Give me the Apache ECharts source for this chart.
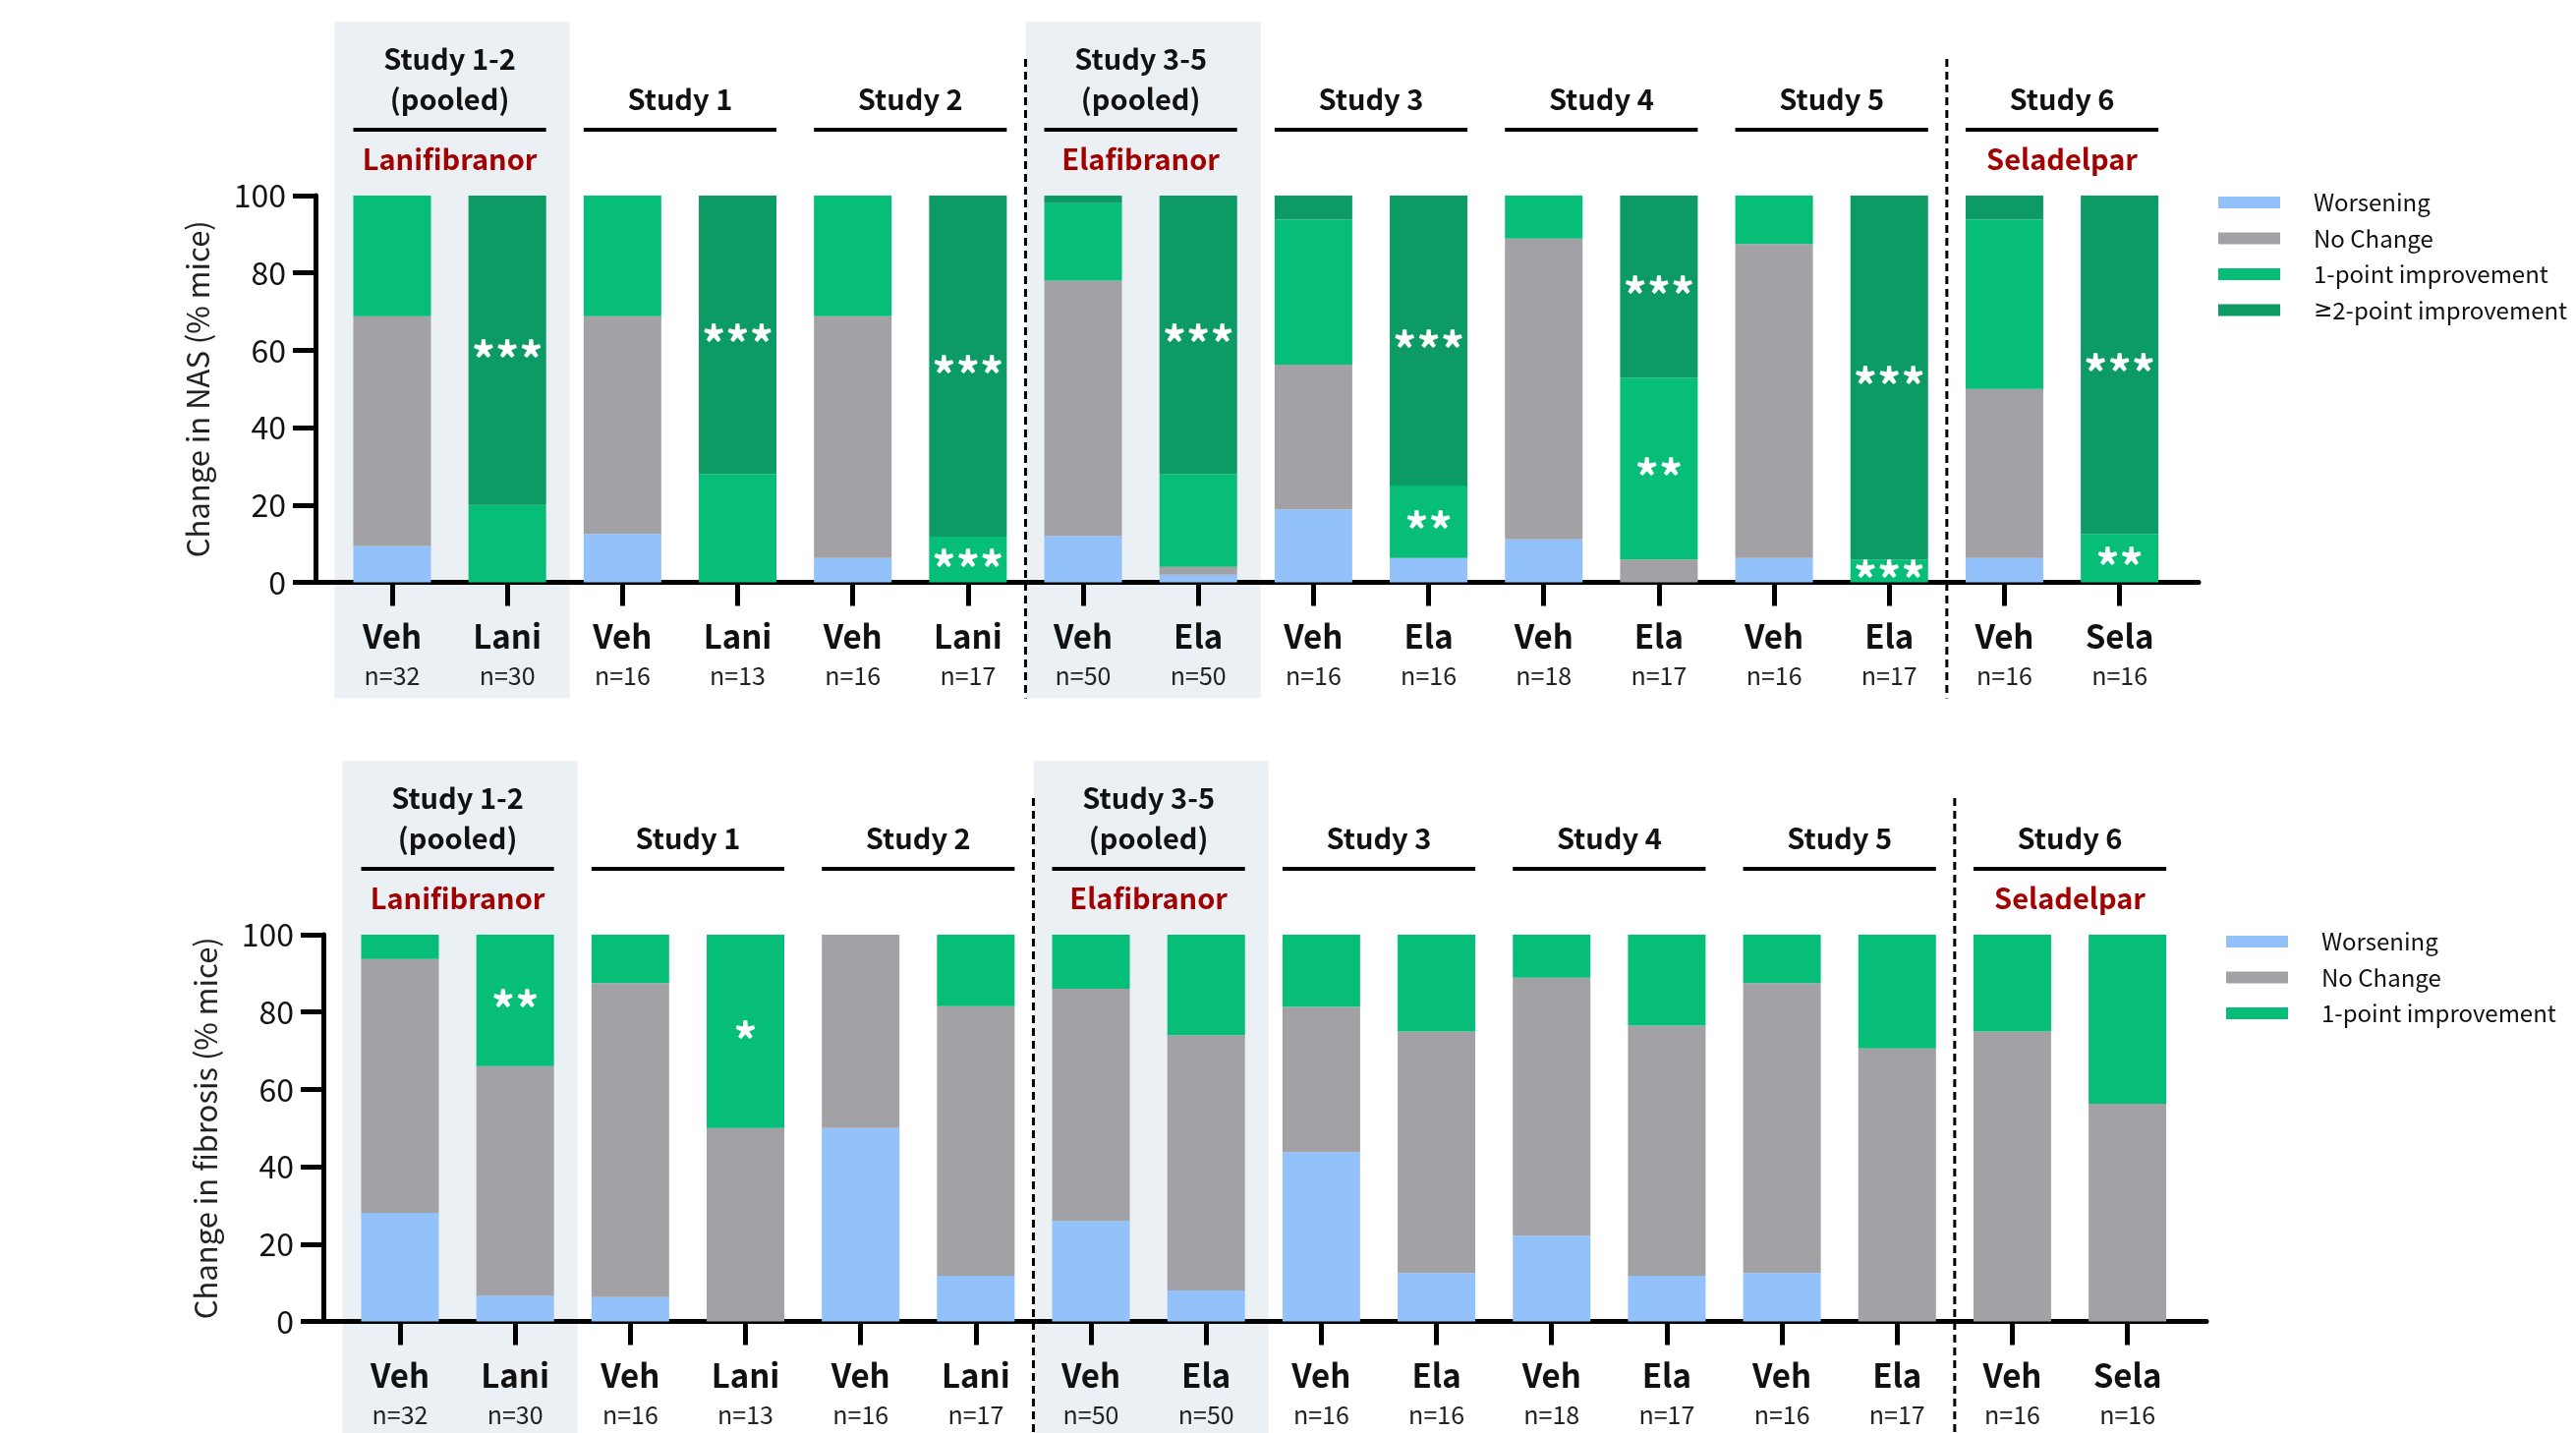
<!DOCTYPE html>
<html>
<head>
<meta charset="utf-8">
<title>Change in NAS and fibrosis by study</title>
<script src="https://cdn.jsdelivr.net/npm/echarts@6/dist/echarts.min.js"></script>
<style>
  html, body { margin: 0; padding: 0; background: #ffffff; }
  #chart { width: 2621px; height: 1458px; }
</style>
</head>
<body>
<div id="chart"></div>
<script>
// ---- Categories and labels ----
const armLabels = ['Veh', 'Lani', 'Veh', 'Lani', 'Veh', 'Lani', 'Veh', 'Ela', 'Veh', 'Ela', 'Veh', 'Ela', 'Veh', 'Ela', 'Veh', 'Sela'];
const groupSizes = ['n=32', 'n=30', 'n=16', 'n=13', 'n=16', 'n=17', 'n=50', 'n=50', 'n=16', 'n=16', 'n=18', 'n=17', 'n=16', 'n=17', 'n=16', 'n=16'];
const studyTitles = ['Study 1-2\n(pooled)', 'Study 1', 'Study 2', 'Study 3-5\n(pooled)', 'Study 3', 'Study 4', 'Study 5', 'Study 6'];
const drugNames = ['Lanifibranor', '', '', 'Elafibranor', '', '', '', 'Seladelpar'];
const pooledStudies = [0, 3];
const dividersAfterStudy = [2, 6];
const yTicks = [0, 20, 40, 60, 80, 100];

const legendNames = ['Worsening', 'No Change', '1-point improvement', '\u22652-point improvement'];

// ---- Change in NAS (% mice) ----
const nasWorsening = [9.4, 0, 12.5, 0, 6.3, 0, 12, 2, 18.8, 6.3, 11.1, 0, 6.3, 0, 6.3, 0];
const nasNoChange = [59.4, 0, 56.3, 0, 62.5, 0, 66, 2, 37.5, 0, 77.8, 5.9, 81.2, 0, 43.7, 0];
const nasOnePoint = [31.2, 20, 31.2, 28, 31.2, 11.8, 20, 24, 37.5, 18.7, 11.1, 47, 12.5, 5.9, 43.8, 12.5];
const nasTwoPoint = [0, 80, 0, 72, 0, 88.2, 2, 72, 6.2, 75, 0, 47.1, 0, 94.1, 6.2, 87.5];
const nasOnePointStars = ['', '', '', '', '', '***', '', '', '', '**', '', '**', '', '***', '', '**'];
const nasTwoPointStars = ['', '***', '', '***', '', '***', '', '***', '', '***', '', '***', '', '***', '', '***'];

// ---- Change in fibrosis (% mice) ----
const fibWorsening = [28.1, 6.7, 6.3, 0, 50, 11.8, 26, 8, 43.8, 12.5, 22.2, 11.8, 12.5, 0, 0, 0];
const fibNoChange = [65.6, 59.3, 81.2, 50, 50, 69.7, 60, 66, 37.5, 62.5, 66.7, 64.7, 75, 70.6, 75, 56.3];
const fibOnePoint = [6.3, 34, 12.5, 50, 0, 18.5, 14, 26, 18.7, 25, 11.1, 23.5, 12.5, 29.4, 25, 43.7];
const fibOnePointStars = ['', '**', '', '*', '', '', '', '', '', '', '', '', '', '', '', ''];

// ---- Styling ----
const FONT = '"Noto Sans CJK SC", "Noto Sans", sans-serif';
const SYMBOL_FONT = '"Noto Sans", "DejaVu Sans", sans-serif';
const INK = '#111111';
const DRUG_RED = '#A30000';
const SHADE = '#EBF0F4';
const COLOR = {
  worse: '#93C1F9',
  none: '#A2A1A6',
  one: '#06BE78',
  two: '#0C9A65'
};

const panels = [
  {
    dx: 0, dy: 0,
    yName: 'Change in NAS (% mice)',
    layers: [
      { name: legendNames[0], color: COLOR.worse, values: nasWorsening, stars: null },
      { name: legendNames[1], color: COLOR.none, values: nasNoChange, stars: null },
      { name: legendNames[2], color: COLOR.one, values: nasOnePoint, stars: nasOnePointStars },
      { name: legendNames[3], color: COLOR.two, values: nasTwoPoint, stars: nasTwoPointStars }
    ],
    legend: legendNames
  },
  {
    dx: 8, dy: 752,
    yName: 'Change in fibrosis (% mice)',
    layers: [
      { name: legendNames[0], color: COLOR.worse, values: fibWorsening, stars: null },
      { name: legendNames[1], color: COLOR.none, values: fibNoChange, stars: null },
      { name: legendNames[2], color: COLOR.one, values: fibOnePoint, stars: fibOnePointStars }
    ],
    legend: legendNames.slice(0, 3)
  }
];

// Plot geometry (px)
const AXIS_LEFT = 321, AXIS_WIDTH = 1916;
const BAR_LEFT = 340.4, BAR_AREA_WIDTH = 1874.8;
const PLOT_TOP = 199, PLOT_HEIGHT = 393.5;
const BAR_WIDTH = 79;

const chart = echarts.init(document.getElementById('chart'), null, { renderer: 'canvas' });

const option = {
  backgroundColor: '#ffffff',
  animation: false,
  textStyle: { fontFamily: FONT },
  grid: [], xAxis: [], yAxis: [], series: [], legend: []
};

panels.forEach((p, pi) => {
  const gAxis = pi * 2, gBars = pi * 2 + 1;
  const stackId = 'stack' + pi;

  // grid that carries the axis frame (y axis + full-length baseline)
  option.grid.push({
    left: AXIS_LEFT + p.dx, top: PLOT_TOP + p.dy, width: AXIS_WIDTH, height: PLOT_HEIGHT,
    containLabel: false, outerBoundsMode: 'none'
  });
  // grid that carries the bars, inset from the frame
  option.grid.push({
    left: BAR_LEFT + p.dx, top: PLOT_TOP + p.dy, width: BAR_AREA_WIDTH, height: PLOT_HEIGHT,
    containLabel: false, outerBoundsMode: 'none'
  });

  option.xAxis.push({
    gridIndex: gAxis, type: 'value', min: 0, max: 1,
    axisLine: { show: true, onZero: false, lineStyle: { color: '#000', width: 5 } },
    axisTick: { show: false }, axisLabel: { show: false }, splitLine: { show: false }
  });
  option.xAxis.push({
    gridIndex: gBars, type: 'category',
    data: armLabels.map((_, i) => String(i)),
    axisLine: { show: false },
    axisTick: { show: true, alignWithLabel: true, length: 24, lineStyle: { color: '#000', width: 5 } },
    axisLabel: {
      interval: 0, margin: 35,
      formatter: (v, i) => '{arm|' + armLabels[i] + '}\n{n|' + groupSizes[i] + '}',
      rich: {
        arm: { fontFamily: FONT, fontSize: 33, fontWeight: 'bold', color: INK, lineHeight: 40 },
        n: { fontFamily: FONT, fontSize: 25, color: '#222', lineHeight: 39 }
      }
    },
    splitLine: { show: false }
  });

  option.yAxis.push({
    gridIndex: gAxis, type: 'value', min: 0, max: 100, interval: 20,
    name: p.yName, nameLocation: 'middle', nameGap: 104,
    nameTextStyle: { fontFamily: FONT, fontSize: 31, color: '#222' },
    axisLine: { show: true, onZero: false, lineStyle: { color: '#000', width: 5 } },
    axisTick: { show: true, length: 23, lineStyle: { color: '#000', width: 5 } },
    axisLabel: {
      margin: 30, fontFamily: FONT, fontSize: 32, color: INK,
      formatter: v => (yTicks.indexOf(v) >= 0 ? String(v) : '')
    },
    splitLine: { show: false }
  });
  option.yAxis.push({
    gridIndex: gBars, type: 'value', min: 0, max: 100, interval: 20, show: false
  });

  p.layers.forEach(layer => {
    const stars = layer.stars;
    option.series.push({
      name: layer.name, type: 'bar', stack: stackId,
      xAxisIndex: gBars, yAxisIndex: gBars,
      barWidth: BAR_WIDTH,
      itemStyle: { color: layer.color },
      label: {
        show: !!stars, position: 'inside', offset: [0, 9],
        color: '#ffffff', fontFamily: FONT, fontSize: 48, fontWeight: 'bold',
        formatter: prm => (stars ? stars[prm.dataIndex] : '')
      },
      emphasis: { disabled: true },
      data: layer.values
    });
  });

  option.legend.push({
    data: p.legend, orient: 'vertical',
    left: 2257 + p.dx, top: 191 + p.dy, padding: 0,
    icon: 'rect', itemWidth: 63, itemHeight: 12, itemGap: 6.5,
    selectedMode: false,
    formatter: name => name.replace('\u2265', '{ge|\u2265}'),
    textStyle: {
      fontFamily: FONT, fontSize: 24, color: INK, lineHeight: 30, padding: [0, 0, 0, 29],
      rich: { ge: { fontFamily: SYMBOL_FONT, fontSize: 23, color: INK, lineHeight: 30 } }
    }
  });
});

chart.setOption(option);

// ---- Study headers, pooled shading and dividers placed from the axis scales ----
const graphics = [];
panels.forEach((p, pi) => {
  const xi = pi * 2 + 1;
  const cx = i => chart.convertToPixel({ xAxisIndex: xi }, i);
  const band = cx(1) - cx(0);
  const y100 = chart.convertToPixel({ yAxisIndex: pi * 2 }, 100);
  const y0 = chart.convertToPixel({ yAxisIndex: pi * 2 }, 0);
  const boxTop = y100 - 177;
  const boxBottom = y0 + 118;

  pooledStudies.forEach(s => {
    const left = cx(2 * s) - band / 2;
    const right = cx(2 * s + 1) + band / 2 + 5;
    graphics.push({
      type: 'rect', z: -10, silent: true,
      shape: { x: left, y: boxTop, width: right - left, height: boxBottom - boxTop },
      style: { fill: SHADE }
    });
  });

  dividersAfterStudy.forEach(s => {
    const x = cx(2 * s + 1) + band / 2;
    graphics.push({
      type: 'line', z: 5, silent: true,
      shape: { x1: x, y1: y100 - 139, x2: x, y2: boxBottom },
      style: { stroke: '#000', lineWidth: 3, lineDash: [8, 5] }
    });
  });

  studyTitles.forEach((title, s) => {
    const a = cx(2 * s), b = cx(2 * s + 1);
    const mid = (a + b) / 2;
    const lines = title.split('\n');
    lines.forEach((line, k) => {
      const y = lines.length === 2 ? (k === 0 ? y100 - 139 : y100 - 98) : y100 - 98;
      graphics.push({
        type: 'text', z: 6, silent: true,
        style: {
          x: mid, y: y, text: line, align: 'center', verticalAlign: 'middle',
          fontFamily: FONT, fontSize: 29, fontWeight: 'bold', fill: INK
        }
      });
    });
    graphics.push({
      type: 'line', z: 6, silent: true,
      shape: { x1: a - BAR_WIDTH / 2, y1: y100 - 67, x2: b + BAR_WIDTH / 2, y2: y100 - 67 },
      style: { stroke: '#000', lineWidth: 4 }
    });
    if (drugNames[s]) {
      graphics.push({
        type: 'text', z: 6, silent: true,
        style: {
          x: mid, y: y100 - 37, text: drugNames[s], align: 'center', verticalAlign: 'middle',
          fontFamily: FONT, fontSize: 29, fontWeight: 'bold', fill: DRUG_RED
        }
      });
    }
  });
});

chart.setOption({ graphic: { elements: graphics } });
</script>
</body>
</html>
